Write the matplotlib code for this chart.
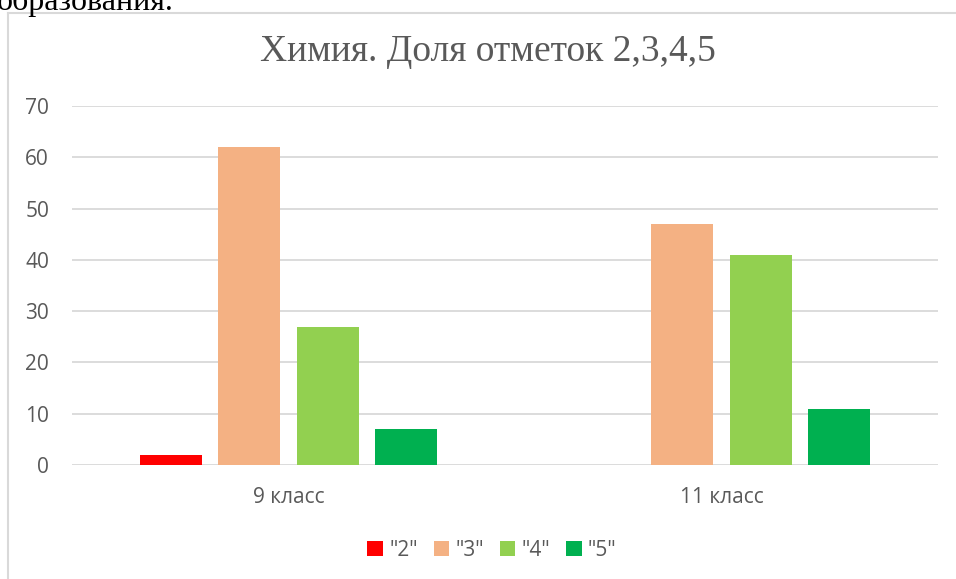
import matplotlib
matplotlib.use("Agg")
import matplotlib.pyplot as plt
import numpy as np
from matplotlib.lines import Line2D
from matplotlib.patches import Patch

categories = ["9 класс", "11 класс"]
series_names = ['"2"', '"3"', '"4"', '"5"']
values = {
    '"2"': [2, 0],
    '"3"': [62, 47],
    '"4"': [27, 41],
    '"5"': [7, 11],
}
colors = ["#FF0000", "#F4B183", "#92D050", "#00B050"]
yticks = [0, 10, 20, 30, 40, 50, 60, 70]
title = "Химия. Доля отметок 2,3,4,5"

W, H = 956, 579
fig = plt.figure(figsize=(W / 100, H / 100), dpi=100)
fig.patch.set_facecolor("white")

# cut-off text from the document above the chart
fig.text(-0.003, 1 - 10 / H, "образования.", family="Liberation Serif",
         fontsize=23, color="black", ha="left", va="baseline")

# chart frame (left and top borders)
fig.add_artist(Line2D([8 / W, 8 / W], [0, 1 - 13 / H], transform=fig.transFigure,
                      color="#D9D9D9", lw=1.5))
fig.add_artist(Line2D([8 / W, 1], [1 - 13 / H, 1 - 13 / H], transform=fig.transFigure,
                      color="#D9D9D9", lw=1.5))

ax = fig.add_axes([72 / W, (H - 465) / H, (938 - 72) / W, (465 - 106) / H])
x = np.arange(len(categories))
bw = 62 / 433
step = 78.5 / 433
for i, (name, c) in enumerate(zip(series_names, colors)):
    offs = (i - 1.5) * step
    ax.bar(x + offs, values[name], width=bw, color=c, zorder=3, label=name)

ax.set_xlim(-0.5, 1.5)
ax.set_ylim(0, 70)
ax.set_yticks(yticks)
ax.set_yticklabels([str(v) for v in yticks])
ax.set_xticks(x)
ax.set_xticklabels(categories)
ax.grid(axis="y", color="#D9D9D9", lw=1.3, zorder=0)
ax.set_axisbelow(True)
for s in ax.spines.values():
    s.set_visible(False)
ax.tick_params(axis="both", length=0, labelcolor="#595959", labelsize=15)
ax.tick_params(axis="y", pad=16.5)
ax.tick_params(axis="x", pad=16)
for lbl in ax.get_xticklabels() + ax.get_yticklabels():
    lbl.set_family("Open Sans")

fig.text(488 / W, 1 - 52 / H, title, family="Liberation Serif", fontsize=27,
         color="#595959", ha="center", va="center")

handles = [Patch(facecolor=c, edgecolor="none") for c in colors]
leg = fig.legend(handles, series_names, loc="center", bbox_to_anchor=(492 / W, 1 - 550 / H),
                 ncol=4, frameon=False, handlelength=0.75, handleheight=0.75,
                 handletextpad=0.3, columnspacing=0.75,
                 prop={"family": "Open Sans", "size": 15})
for t in leg.get_texts():
    t.set_color("#595959")

fig.savefig("out.png", dpi=100)
